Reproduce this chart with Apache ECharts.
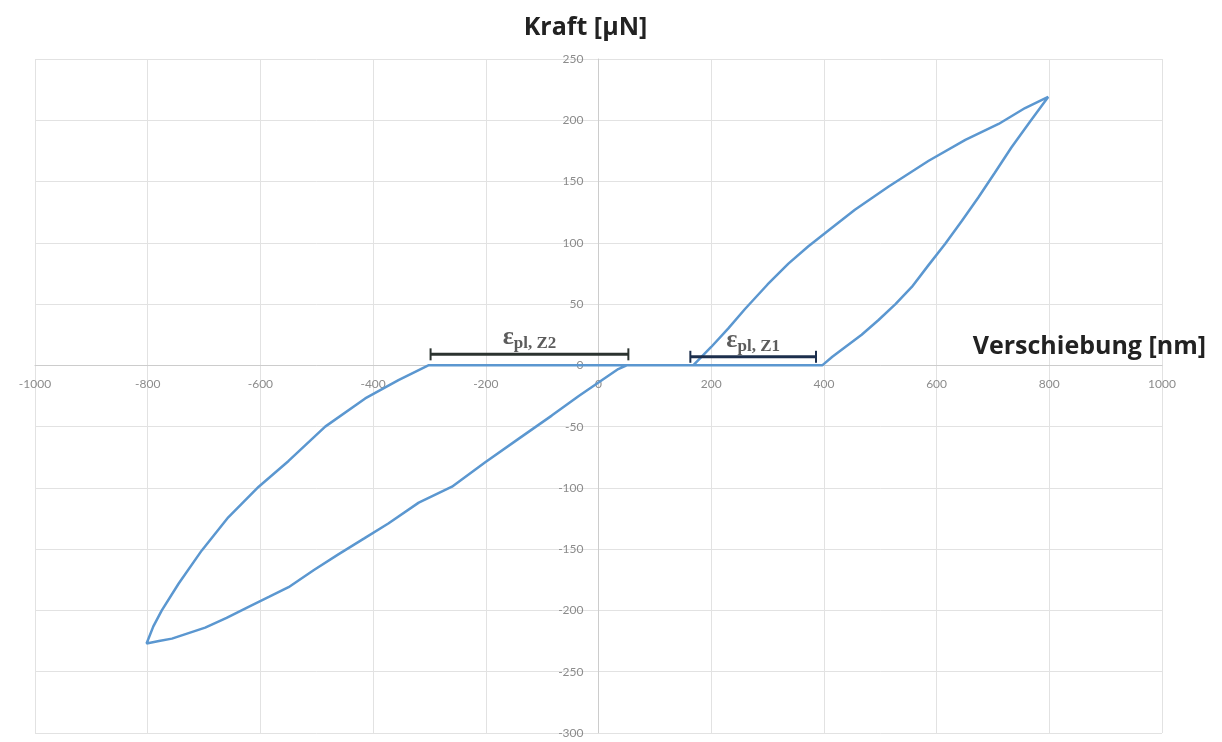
<!DOCTYPE html>
<html>
<head>
<meta charset="utf-8">
<script src="https://cdn.jsdelivr.net/npm/echarts@6/dist/echarts.min.js"></script>
<style>
  html, body { margin: 0; padding: 0; background: #ffffff; }
  #chart { width: 1222px; height: 742px; }
</style>
</head>
<body>
<div id="chart"></div>
<script>
// Hysteresis loop: displacement [nm] vs force [µN]

// Z1 loading branch (tension side), from zero force up to the turning point
const loadingZ1 = [
  [168, 0], [200, 15], [230, 30], [260, 46], [300, 66], [337, 83], [372, 97],
  [408, 110], [455, 127], [515, 146], [586, 167], [651, 184], [710, 197],
  [757, 210], [798, 219]
];
// Z1 unloading branch back to zero force
const unloadingZ1 = [
  [798, 219], [766, 199], [733, 178], [703, 157], [674, 137], [645, 118],
  [615, 99], [586, 82], [556, 64], [527, 50], [497, 37], [467, 25],
  [438, 15], [415, 7], [397, 0]
];
// Flat segment at zero force
const zeroSegment = [
  [397, 0], [-302, 0]
];
// Z2 loading branch (compression side) to the lower turning point
const loadingZ2 = [
  [-302, 0], [-355, -12], [-414, -27], [-485, -50], [-550, -78], [-603, -99],
  [-657, -124], [-704, -151], [-745, -178], [-775, -200], [-790, -213],
  [-802, -227]
];
// Z2 unloading branch back through zero
const unloadingZ2 = [
  [-802, -227], [-780, -225], [-757, -223], [-698, -214], [-660, -206],
  [-621, -197], [-585, -189], [-550, -181], [-505, -167], [-461, -154],
  [-415, -141], [-373, -129], [-319, -112], [-260, -99], [-201, -79],
  [-142, -60], [-83, -41], [-35, -25], [0, -14], [35, -3], [50, 0], [168, 0]
];

// Plastic strain spans drawn just above the zero line
const strainSpans = [
  { name: 'Z2', from: -298, to: 53, level: 9, color: '#2b332f' },
  { name: 'Z1', from: 163, to: 386, level: 7, color: '#1c2f4d' }
];

const xTickRange = { min: -1000, max: 1000, step: 200 };
const yTickRange = { min: -300, max: 250, step: 50 };

const loop = [].concat(loadingZ1, unloadingZ1.slice(1), zeroSegment.slice(1),
  loadingZ2.slice(1), unloadingZ2.slice(1));

const chart = echarts.init(document.getElementById('chart'), null, { renderer: 'canvas' });

const tickLabelStyle = {
  color: '#8c8c8c',
  fontSize: 12,
  fontFamily: 'Lato, "Open Sans", sans-serif',
  formatter: function (v) { return String(v); }
};
const titleFont = '"Open Sans", Lato, sans-serif';

const spanSeries = [];
strainSpans.forEach(function (s) {
  spanSeries.push({
    type: 'line',
    name: 'ε ' + s.name,
    data: [[s.from, s.level], [s.to, s.level]],
    symbol: 'rect',
    symbolSize: [2, 12],
    showSymbol: true,
    itemStyle: { color: s.color },
    lineStyle: { color: s.color, width: 3 },
    z: 5,
    silent: true,
    animation: false
  });
  spanSeries.push({
    type: 'scatter',
    data: [[(s.from + s.to) / 2, s.level]],
    symbolSize: 0,
    z: 6,
    silent: true,
    animation: false,
    label: {
      show: true,
      position: 'top',
      distance: 2,
      formatter: '{e|ε}{s|pl, ' + s.name + '}',
      rich: {
        e: {
          fontFamily: '"Liberation Serif", "DejaVu Serif", serif',
          fontWeight: 'bold',
          fontSize: 26,
          color: '#333333',
          verticalAlign: 'bottom',
          padding: [0, 0, 2, 0]
        },
        s: {
          fontFamily: '"Liberation Serif", "DejaVu Serif", serif',
          fontWeight: 'bold',
          fontSize: 17,
          color: '#333333',
          verticalAlign: 'bottom'
        }
      }
    }
  });
});

const GRID = { left: 35, right: 60, top: 59, bottom: 9 };

chart.setOption({
  backgroundColor: '#ffffff',
  animation: false,
  grid: Object.assign({ outerBoundsMode: 'none', containLabel: false }, GRID),
  xAxis: {
    type: 'value',
    min: xTickRange.min,
    max: xTickRange.max,
    interval: xTickRange.step,
    name: 'Verschiebung [nm]',
    nameLocation: 'end',
    nameGap: 44,
    nameTextStyle: {
      fontFamily: titleFont,
      fontWeight: 'bold',
      fontSize: 25,
      color: '#222222',
      align: 'right',
      verticalAlign: 'bottom',
      padding: [0, 0, 6, 0]
    },
    axisLine: { onZero: false, lineStyle: { color: '#cccccc', width: 1 } },
    axisTick: { show: false },
    axisLabel: Object.assign({ margin: 13 }, tickLabelStyle),
    splitLine: { show: true, lineStyle: { color: '#e2e2e2', width: 1 } }
  },
  yAxis: {
    type: 'value',
    min: yTickRange.min,
    max: yTickRange.max,
    interval: yTickRange.step,
    name: 'Kraft [µN]',
    nameLocation: 'end',
    nameGap: 31,
    nameTextStyle: {
      fontFamily: titleFont,
      fontWeight: 'bold',
      fontSize: 25,
      color: '#222222',
      align: 'center',
      verticalAlign: 'middle',
      padding: [0, 26, 0, 0]
    },
    axisLine: { onZero: false, lineStyle: { color: '#cccccc', width: 1 } },
    axisTick: { show: false },
    axisLabel: Object.assign({ margin: 15 }, tickLabelStyle),
    splitLine: { show: true, lineStyle: { color: '#e2e2e2', width: 1 } }
  },
  series: [
    {
      type: 'line',
      name: 'Kraft',
      data: loop,
      showSymbol: false,
      symbol: 'none',
      smooth: false,
      lineStyle: { color: '#5b97d0', width: 2.5 },
      z: 3,
      silent: true,
      animation: false
    }
  ].concat(spanSeries)
});

// Move both axes (line, labels and names) so they cross at the origin
const origin = chart.convertToPixel({ gridIndex: 0 }, [0, 0]);
chart.setOption({
  xAxis: { offset: origin[1] - (chart.getHeight() - GRID.bottom) },
  yAxis: { offset: GRID.left - origin[0] }
});
</script>
</body>
</html>
